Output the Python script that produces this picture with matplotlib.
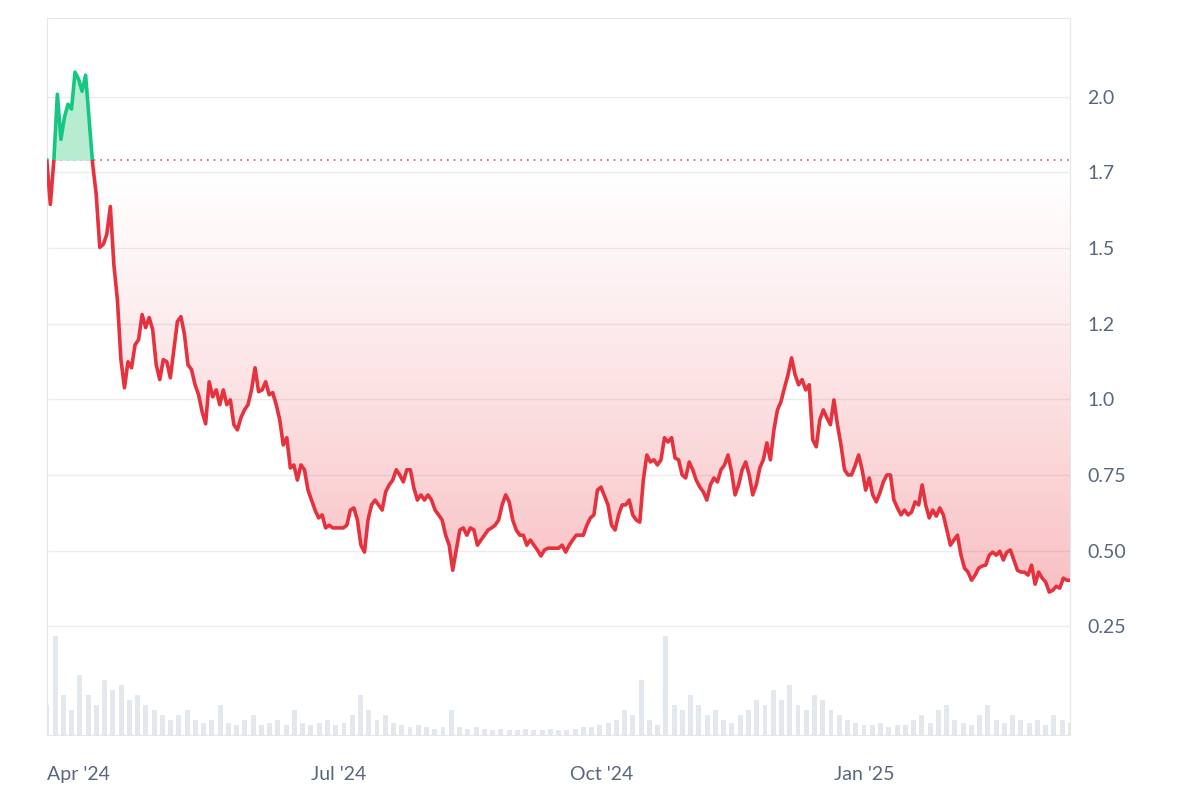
import datetime

import matplotlib
matplotlib.use('Agg')
import matplotlib.dates as mdates
import numpy as np
from matplotlib import pyplot as plt
from matplotlib.patches import Rectangle

START = datetime.date(2024, 3, 21)
END = datetime.date(2025, 3, 14)
BASELINE = 1.79

prices = [
    1.79, 1.644, 1.79, 2.008, 1.859, 1.932, 1.975, 1.959, 2.081, 2.058, 2.018, 2.071, 1.925,
    1.776, 1.677, 1.502, 1.512, 1.545, 1.637, 1.445, 1.329, 1.131, 1.038, 1.124, 1.104, 1.18,
    1.197, 1.28, 1.237, 1.27, 1.23, 1.114, 1.065, 1.131, 1.124, 1.071, 1.164, 1.257, 1.273,
    1.214, 1.114, 1.098, 1.048, 1.015, 0.959, 0.919, 1.058, 1.008, 1.031, 0.982, 1.031, 0.982,
    0.998, 0.916, 0.899, 0.939, 0.965, 0.982, 1.031, 1.104, 1.025, 1.031, 1.058, 1.015, 1.022,
    0.982, 0.932, 0.849, 0.873, 0.773, 0.783, 0.733, 0.783, 0.767, 0.70, 0.667, 0.634, 0.608,
    0.618, 0.575, 0.584, 0.575, 0.575, 0.575, 0.575, 0.584, 0.634, 0.641, 0.601, 0.518, 0.495,
    0.601, 0.651, 0.667, 0.651, 0.634, 0.694, 0.717, 0.733, 0.767, 0.75, 0.727, 0.767, 0.767,
    0.707, 0.667, 0.684, 0.667, 0.684, 0.667, 0.634, 0.618, 0.601, 0.551, 0.518, 0.435, 0.502,
    0.568, 0.575, 0.551, 0.575, 0.568, 0.518, 0.535, 0.551, 0.568, 0.575, 0.584, 0.601, 0.651,
    0.684, 0.661, 0.601, 0.568, 0.551, 0.551, 0.518, 0.535, 0.518, 0.502, 0.482, 0.502, 0.508,
    0.508, 0.508, 0.508, 0.518, 0.495, 0.518, 0.535, 0.551, 0.551, 0.551, 0.584, 0.608, 0.618,
    0.70, 0.71, 0.68, 0.651, 0.584, 0.568, 0.618, 0.651, 0.651, 0.667, 0.618, 0.601, 0.594,
    0.733, 0.816, 0.793, 0.80, 0.783, 0.80, 0.873, 0.859, 0.873, 0.806, 0.80, 0.75, 0.74,
    0.793, 0.767, 0.733, 0.71, 0.694, 0.667, 0.717, 0.74, 0.727, 0.767, 0.783, 0.816, 0.76,
    0.684, 0.717, 0.767, 0.793, 0.75, 0.684, 0.717, 0.773, 0.80, 0.856, 0.80, 0.899, 0.965,
    0.992, 1.038, 1.081, 1.137, 1.081, 1.048, 1.065, 1.031, 1.048, 0.866, 0.843, 0.932, 0.965,
    0.939, 0.916, 0.998, 0.916, 0.849, 0.767, 0.75, 0.75, 0.78, 0.816, 0.767, 0.70, 0.74,
    0.684, 0.661, 0.69, 0.727, 0.75, 0.75, 0.667, 0.641, 0.618, 0.634, 0.618, 0.627, 0.661,
    0.651, 0.717, 0.651, 0.608, 0.634, 0.614, 0.641, 0.618, 0.568, 0.518, 0.535, 0.551, 0.485,
    0.442, 0.429, 0.402, 0.419, 0.442, 0.449, 0.452, 0.485, 0.495, 0.485, 0.498, 0.469, 0.495,
    0.502, 0.469, 0.435, 0.429, 0.429, 0.419, 0.452, 0.389, 0.429, 0.409, 0.396, 0.363, 0.369,
    0.382, 0.376, 0.409, 0.402, 0.402,
]

volumes = [
    30, 100, 40, 25, 60, 40, 30, 55, 45, 50, 35, 40, 30, 25, 20, 15, 20, 25, 15, 12, 15, 30,
    12, 10, 15, 20, 10, 12, 15, 10, 25, 12, 10, 12, 15, 10, 12, 20, 40, 25, 15, 20, 12, 10,
    8, 10, 8, 6, 8, 25, 8, 6, 8, 6, 5, 6, 5, 5, 6, 5, 5, 6, 5, 5, 6, 8, 8, 10, 12, 15, 25,
    20, 55, 15, 10, 100, 30, 25, 40, 30, 20, 25, 15, 12, 20, 25, 35, 30, 45, 35, 50, 30, 25,
    40, 35, 25, 20, 15, 12, 10, 10, 12, 8, 10, 10, 15, 20, 12, 25, 30, 15, 12, 10, 20, 30,
    15, 12, 20, 15, 12, 15, 10, 20, 15, 12,
]

tick_dates = [datetime.date(2024, 4, 1), datetime.date(2024, 7, 1),
              datetime.date(2024, 10, 1), datetime.date(2025, 1, 1)]
tick_labels = ["Apr '24", "Jul '24", "Oct '24", "Jan '25"]
y_ticks = [0.25, 0.5, 0.75, 1.0, 1.25, 1.5, 1.75, 2.0]
y_labels = ['0.25', '0.50', '0.75', '1.0', '1.2', '1.5', '1.7', '2.0']


def main() -> None:
    plt.rcParams['font.family'] = ['Lato', 'DejaVu Sans']
    x0, x1 = mdates.date2num(START), mdates.date2num(END)
    x = np.linspace(x0, x1, len(prices))
    p = np.array(prices)

    fig = plt.figure(figsize=(12, 8), dpi=100)
    ax = fig.add_axes([0.039, 0.081, 0.853, 0.8965])
    ax.set_xlim(x0, x1)
    ax.set_ylim(-0.11, 2.26)

    # volume bars in the lower strip
    vax = ax.twinx()
    vx = np.linspace(x0, x1, len(volumes))
    vax.bar(vx, volumes, width=(x1 - x0) / len(volumes) * 0.6, color='#e3e8ee', zorder=1)
    vax.set_ylim(0, max(volumes) * 7.2)
    vax.axis('off')
    ax.set_zorder(vax.get_zorder() + 1)
    ax.patch.set_visible(False)

    for t in y_ticks:
        ax.axhline(t, color='#ececec', linewidth=1, zorder=0)
    ax.axhline(BASELINE, color='#c06060', linestyle=(0, (1, 3)), linewidth=1.2, zorder=2)

    # green area above the starting price
    ax.fill_between(x, BASELINE, np.maximum(p, BASELINE), color='#b8ecd0', linewidth=0, zorder=2)

    # red gradient area below the starting price
    poly = ax.fill_between(x, np.minimum(p, BASELINE), BASELINE, color='none', linewidth=0)
    grad = np.linspace(0, 1, 256)
    img = np.zeros((256, 1, 4))
    img[:, 0, 0], img[:, 0, 1], img[:, 0, 2] = 0.92, 0.22, 0.26
    img[:, 0, 3] = grad ** 1.2 * 0.32
    im = ax.imshow(img, extent=[x0, x1, 0.35, BASELINE], origin='upper', aspect='auto', zorder=2)
    im.set_clip_path(poly.get_paths()[0], transform=ax.transData)
    ax.set_xlim(x0, x1)
    ax.set_ylim(-0.11, 2.26)

    red, = ax.plot(x, p, color='#e5323e', linewidth=2.6, zorder=3, solid_joinstyle='round')
    red.set_clip_path(Rectangle((x0, -1), x1 - x0, BASELINE + 1, transform=ax.transData))
    green, = ax.plot(x, p, color='#16c784', linewidth=2.6, zorder=3, solid_joinstyle='round')
    green.set_clip_path(Rectangle((x0, BASELINE), x1 - x0, 2, transform=ax.transData))

    ax.set_xticks([mdates.date2num(d) for d in tick_dates])
    ax.set_xticklabels(tick_labels)
    ax.yaxis.tick_right()
    ax.set_yticks(y_ticks)
    ax.set_yticklabels(y_labels)
    ax.tick_params(length=0, labelsize=14, colors='#58667e', pad=12)
    ax.tick_params(axis='x', pad=22)
    for spine in ax.spines.values():
        spine.set_color('#e6e6e6')

    fig.savefig('out.png', dpi=100)


if __name__ == '__main__':
    main()
